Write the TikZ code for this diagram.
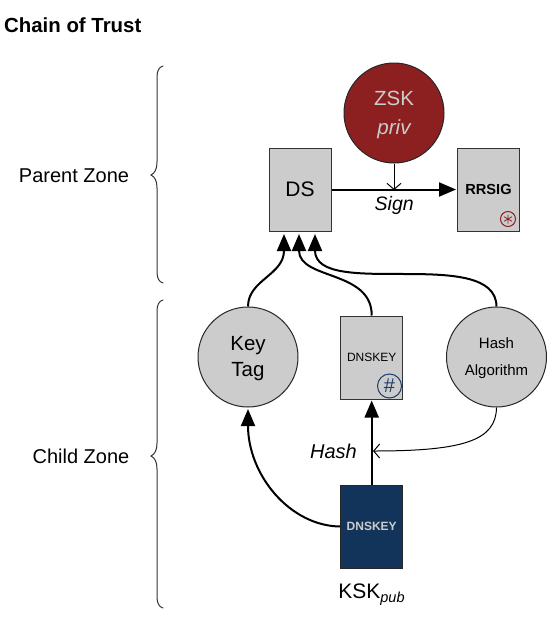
\documentclass[tikz,border=0pt]{standalone}
\usepackage{fontspec}
\setmainfont{Liberation Sans}
\usetikzlibrary{arrows.meta}
\definecolor{boxgray}{HTML}{CCCCCC}
\definecolor{zskred}{HTML}{8C2020}
\definecolor{ksknavy}{HTML}{12335A}
\definecolor{hashblue}{HTML}{1B3F6B}
\definecolor{softtext}{HTML}{CCCCCC}
\tikzset{
  x=1pt,y=-1pt,
  recbox/.style={draw=black!80,line width=1pt,fill=boxgray,minimum width=62pt,minimum height=83pt,inner sep=0pt},
  keydisc/.style={draw=black!85,line width=1pt,fill=boxgray,circle,minimum size=100pt,inner sep=0pt,align=center},
  thick link/.style={line width=2pt,draw=black,-{Triangle[length=17pt,width=14pt]},shorten >=1pt},
  thin link/.style={line width=1pt,draw=black,-{Straight Barb[length=6pt,width=14pt,line width=1pt]}},
  lbl/.style={inner sep=0pt,font=\fontsize{20}{22}\selectfont},
  cbrace/.style={line width=1pt,draw=black!80,line cap=round},
}
\begin{document}
\begin{tikzpicture}
\useasboundingbox (0,0) rectangle (558,632);
\node[anchor=west,inner sep=0pt,font=\fontsize{20.4}{22}\selectfont\bfseries] (title) at (4,25) {Chain of Trust};
\node[lbl] (parent) at (74,175.5) {Parent Zone};
\node[lbl] (child) at (81,456.5) {Child Zone};
% braces
\coordinate (b1a) at (163,66); \coordinate (b1t) at (151,175); \coordinate (b1b) at (163,283);
\coordinate (b2a) at (163,300); \coordinate (b2t) at (151,456); \coordinate (b2b) at (163,608);
\draw[cbrace] (b1a) .. controls (159,67) and (157,71) .. (157,77) -- (157,162) .. controls (157,169) and (155,173) .. (b1t)
  .. controls (155,177) and (157,181) .. (157,188) -- (157,272) .. controls (157,278) and (159,282) .. (b1b);
\draw[cbrace] (b2a) .. controls (159,301) and (157,305) .. (157,311) -- (157,443) .. controls (157,450) and (155,454) .. (b2t)
  .. controls (155,458) and (157,462) .. (157,469) -- (157,597) .. controls (157,603) and (159,607) .. (b2b);
% nodes
\node[keydisc,fill=zskred,text=softtext,font=\fontsize{20.5}{30}\selectfont] (zsk) at (394,113) {\rule{0pt}{19pt}ZSK\\[-1pt]\itshape priv};
\node[recbox,font=\fontsize{21}{24}\selectfont] (ds) at (300,189.5) {DS};
\node[recbox,font=\fontsize{14.6}{16}\selectfont\bfseries] (rrsig) at (488.5,189.5) {RRSIG};
\node[keydisc,font=\fontsize{20.5}{26}\selectfont] (keytag) at (248,357) {\rule{0pt}{18pt}Key\\Tag};
\node[recbox,font=\fontsize{12}{14}\selectfont] (dnskey) at (371.7,357.5) {DNSKEY};
\node[keydisc,font=\fontsize{15}{27}\selectfont] (hash) at (496.5,357) {\rule{0pt}{13pt}Hash\\Algorithm};
\node[recbox,draw=black!85,fill=ksknavy,text=softtext,font=\fontsize{12}{14}\selectfont\bfseries] (ksk) at (371.7,526.5) {DNSKEY};
\node[circle,draw=hashblue,line width=1pt,minimum size=24pt,inner sep=0pt,text=hashblue,font=\fontsize{20}{20}\selectfont] (hashmark) at (389.5,386) {\#};
\node[circle,draw=zskred,line width=1pt,minimum size=15pt,inner sep=0pt] (sigmark) at (508,219) {};
\draw[zskred,line width=.8pt] (sigmark.center) ++(0,-4.5) -- ++(0,9) (sigmark.center) ++(-4,-2.3) -- ++(8,4.6) (sigmark.center) ++(-4,2.3) -- ++(8,-4.6);
\node[inner sep=0pt,font=\fontsize{21}{22}\selectfont] (kskpub) at (371.5,595) {KSK\raisebox{-4pt}{\fontsize{14.5}{14}\selectfont\itshape pub}};
% anchors on the DS underside
\coordinate (in1) at (284,233);
\coordinate (in2) at (299,233);
\coordinate (in3) at (315,233);
\coordinate (kin) at (248,408);
\coordinate (hin) at (373,451);
\coordinate (sin) at (394,190);
% connectors
\draw[thick link] (ds.east) -- (rrsig.west) node[midway,below=6pt,inner sep=0pt,font=\fontsize{19.5}{20}\selectfont\itshape] (sign) {Sign};
\draw[thin link] (zsk.south) -- (sin);
\draw[thick link] (keytag.north) .. controls (248,280) and (284,275) .. (in1);
\draw[thick link] (dnskey.north) .. controls (372,270) and (299,280) .. (in2);
\draw[thick link] (hash.north) .. controls (496,245) and (315,300) .. (in3);
\draw[thick link] (ksk.north) -- (dnskey.south);
\draw[thick link] (ksk.west) .. controls (290,526) and (248,475) .. (kin);
\draw[thin link] (hash.south) .. controls (496,440) and (465,451) .. (hin);
\node[inner sep=0pt,font=\fontsize{20}{22}\selectfont\itshape] (hashlbl) at (333.5,451) {Hash};
\end{tikzpicture}
\end{document}
